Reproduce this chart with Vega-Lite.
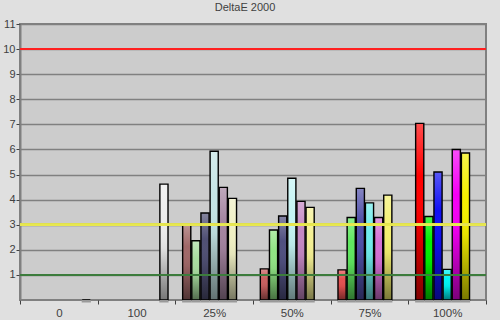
{
  "$schema": "https://vega.github.io/schema/vega-lite/v6.json",
  "width": 466,
  "height": 276,
  "autosize": "none",
  "padding": {"left": 20, "top": 24, "right": 14, "bottom": 20},
  "background": "#e0e0e0",
  "title": {"text": "DeltaE 2000", "fontSize": 11, "fontWeight": "normal", "font": "Liberation Sans", "color": "#404040", "offset": 5, "dx": -8},
  "config": {
    "view": {"fill": "#cccccc", "stroke": "#808080", "strokeWidth": 2},
    "axis": {"labelFont": "Liberation Sans", "labelColor": "#404040", "labelFontSize": 11, "titleFontSize": 11}
  },
  "data": {"values": [
    {"grp": "0", "ch": "W", "id": "0-W", "v": 0.0},
    {"grp": "100", "ch": "W", "id": "100-W", "v": 4.62},
    {"grp": "25%", "ch": "R", "id": "25-R", "v": 3.04},
    {"grp": "25%", "ch": "G", "id": "25-G", "v": 2.36},
    {"grp": "25%", "ch": "B", "id": "25-B", "v": 3.47},
    {"grp": "25%", "ch": "C", "id": "25-C", "v": 5.93},
    {"grp": "25%", "ch": "M", "id": "25-M", "v": 4.49},
    {"grp": "25%", "ch": "Y", "id": "25-Y", "v": 4.05},
    {"grp": "50%", "ch": "R", "id": "50-R", "v": 1.24},
    {"grp": "50%", "ch": "G", "id": "50-G", "v": 2.79},
    {"grp": "50%", "ch": "B", "id": "50-B", "v": 3.35},
    {"grp": "50%", "ch": "C", "id": "50-C", "v": 4.85},
    {"grp": "50%", "ch": "M", "id": "50-M", "v": 3.93},
    {"grp": "50%", "ch": "Y", "id": "50-Y", "v": 3.69},
    {"grp": "75%", "ch": "R", "id": "75-R", "v": 1.2},
    {"grp": "75%", "ch": "G", "id": "75-G", "v": 3.29},
    {"grp": "75%", "ch": "B", "id": "75-B", "v": 4.45},
    {"grp": "75%", "ch": "C", "id": "75-C", "v": 3.87},
    {"grp": "75%", "ch": "M", "id": "75-M", "v": 3.29},
    {"grp": "75%", "ch": "Y", "id": "75-Y", "v": 4.18},
    {"grp": "100%", "ch": "R", "id": "100%-R", "v": 7.04},
    {"grp": "100%", "ch": "G", "id": "100%-G", "v": 3.33},
    {"grp": "100%", "ch": "B", "id": "100%-B", "v": 5.1},
    {"grp": "100%", "ch": "C", "id": "100%-C", "v": 1.22},
    {"grp": "100%", "ch": "M", "id": "100%-M", "v": 6.0},
    {"grp": "100%", "ch": "Y", "id": "100%-Y", "v": 5.86}
  ]},
  "layer": [
    {
      "mark": {"type": "bar"},
      "encoding": {
        "x": {"field": "grp", "type": "nominal", "sort": ["0", "100", "25%", "50%", "75%", "100%"],
          "scale": {"paddingInner": 0, "paddingOuter": 0},
          "axis": {"title": null, "labelAngle": 0, "tickBand": "extent", "domain": false, "ticks": true, "tickColor": "#404040", "tickSize": 4, "labelPadding": 3, "grid": false, "labelFontSize": 11.5}},
        "xOffset": {"field": "ch", "type": "nominal", "scale": {"domain": ["R", "G", "B", "C", "M", "Y", "W"], "paddingInner": 0.11, "paddingOuter": 0.8}},
        "y": {"field": "v", "type": "quantitative", "scale": {"domain": [0, 11], "nice": false},
          "axis": {"title": null, "values": [1,2,3,4,5,6,7,8,9,10,11], "grid": true, "gridColor": "#808080", "gridWidth": 1.5, "domainColor": "#808080", "domainWidth": 2, "tickColor": "#404040", "tickSize": 4, "labelPadding": 1}},
        "color": {"field": "id", "type": "nominal", "legend": null,
          "scale": {
            "domain": ["0-W", "100-W", "25-R", "25-G", "25-B", "25-C", "25-M", "25-Y", "50-R", "50-G", "50-B", "50-C", "50-M", "50-Y", "75-R", "75-G", "75-B", "75-C", "75-M", "75-Y", "100%-R", "100%-G", "100%-B", "100%-C", "100%-M", "100%-Y"],
            "range": ["#e8e8e8", "#ececec", "#a06868", "#a8dca0", "#505074", "#c4e4e4", "#a484a0", "#f0f0c4", "#c86060", "#90e484", "#505080", "#c4f4f4", "#c488c4", "#f4f094", "#e45050", "#60e860", "#5050a8", "#70ecec", "#d470d4", "#f4f070", "#ff0000", "#00f000", "#1010f4", "#00f4f4", "#f400f4", "#f4f000"]
          }}
      }
    },
    {
      "mark": {"type": "bar", "stroke": "#000000", "strokeWidth": 1.4,
        "fill": {"gradient": "linear", "x1": 0, "y1": 0, "x2": 0, "y2": 1,
          "stops": [
            {"offset": 0, "color": "rgba(255,255,255,0.3)"},
            {"offset": 0.3, "color": "rgba(255,255,255,0)"},
            {"offset": 0.55, "color": "rgba(0,0,0,0.05)"},
            {"offset": 1, "color": "rgba(0,0,0,0.5)"}
          ]}},
      "encoding": {
        "x": {"field": "grp", "type": "nominal", "sort": ["0", "100", "25%", "50%", "75%", "100%"], "axis": null},
        "xOffset": {"field": "ch", "type": "nominal"},
        "y": {"field": "v", "type": "quantitative", "axis": null}
      }
    },
    {
      "mark": {"type": "bar", "fill": "#9a9a9a", "width": 9.2},
      "encoding": {
        "x": {"field": "grp", "type": "nominal", "sort": ["0", "100", "25%", "50%", "75%", "100%"], "axis": null},
        "xOffset": {"field": "ch", "type": "nominal"},
        "y": {"datum": 0, "type": "quantitative", "axis": null},
        "y2": {"datum": -0.1}
      }
    },
    {
      "mark": {"type": "rule", "color": "#ff2020", "strokeWidth": 2},
      "encoding": {"y": {"datum": 10, "type": "quantitative", "axis": null}}
    },
    {
      "mark": {"type": "rule", "color": "#e6e650", "strokeWidth": 2, "opacity": 0.85},
      "encoding": {"y": {"datum": 3, "type": "quantitative", "axis": null}}
    },
    {
      "mark": {"type": "rule", "color": "#3c7c3c", "strokeWidth": 2, "opacity": 0.9},
      "encoding": {"y": {"datum": 1, "type": "quantitative", "axis": null}}
    }
  ],
  "resolve": {"axis": {"y": "independent", "x": "independent"}}
}
